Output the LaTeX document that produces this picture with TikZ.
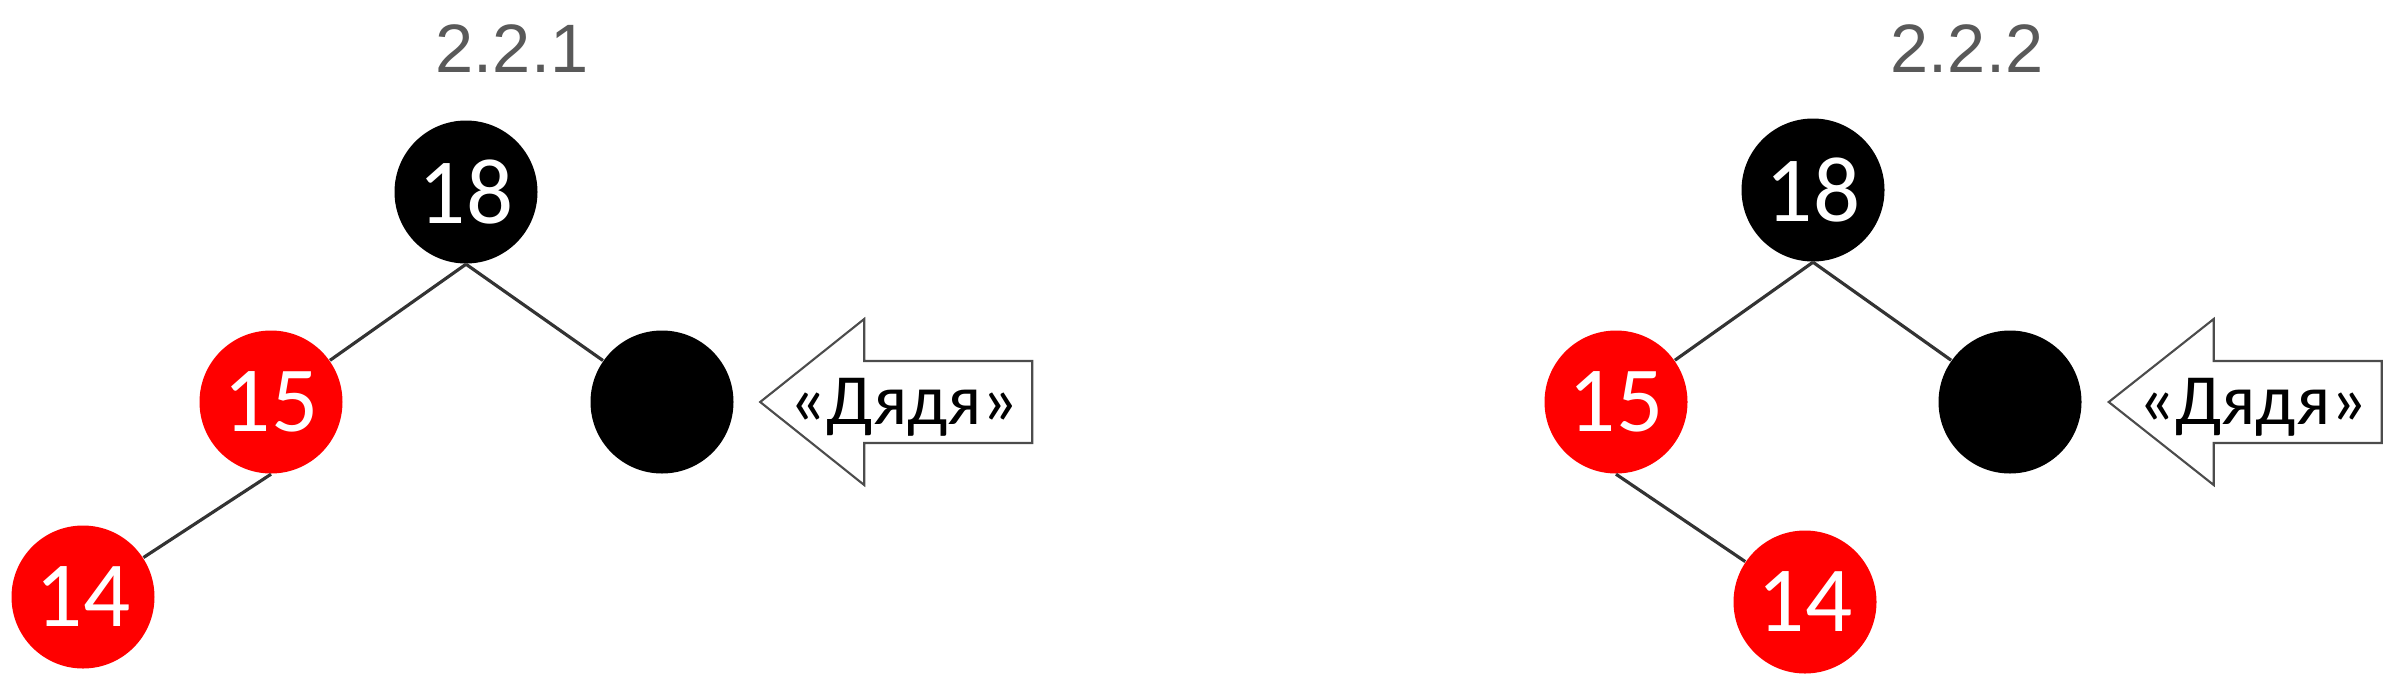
\documentclass[tikz,border=0pt]{standalone}
\usepackage{fontspec}
\setmainfont{Carlito}
\newfontfamily\headfont{Liberation Sans}
\usetikzlibrary{positioning}
\definecolor{headgray}{HTML}{595959}
\definecolor{edgegray}{HTML}{333333}
\begin{document}
\begin{tikzpicture}
	\tikzset{rb/.style = {shape=circle, minimum size=1.43cm, inner sep=0pt, text=white, font=\fontsize{26.5}{26.5}\selectfont},
	red node/.style = {rb, fill=red},
	black node/.style = {rb, fill=black},
	edge/.style = {draw=edgegray, line width=0.9pt},
	title/.style = {anchor=base, text=headgray, font=\headfont\fontsize{19.5}{19.5}\selectfont},
	uncle arrow/.style = {draw=black!70, line width=0.6pt, fill=white},
	uncle text/.style = {inner sep=0pt, font=\fontsize{20.5}{20.5}\selectfont}}

	\useasboundingbox (0,0) rectangle (23.96,6.83);

	% 2.2.1
	\node[title] (T_1) at (5.12,6.11) {2.2.1};
	\node[black node] (A_1) at (4.66,4.91) {18};
	\node[red node] (A_2) at (2.71,2.81) {15};
	\node[black node] (A_3) at (6.62,2.81) {};
	\node[red node] (A_4) at (0.83,0.86) {14};

	\draw[edge] (A_1.south)--(A_2);
	\draw[edge] (A_1.south)--(A_3);
	\draw[edge] (A_2.south)--(A_4);

	\coordinate[right=0.26cm of A_3] (P_1);
	\draw[uncle arrow] (P_1) -- ++(1.04,0.83) -- ++(0,-0.42) -- ++(1.68,0) -- ++(0,-0.82) -- ++(-1.68,0) -- ++(0,-0.42) -- cycle;
	\node[uncle text, right=0.29cm of P_1, yshift=-0.05cm] (D_1) {«Дядя»};

	% 2.2.2
	\node[title] (T_2) at (19.67,6.11) {2.2.2};
	\node[black node] (B_1) at (18.13,4.93) {18};
	\node[red node] (B_2) at (16.16,2.81) {15};
	\node[black node] (B_3) at (20.10,2.81) {};
	\node[red node] (B_4) at (18.05,0.81) {14};

	\draw[edge] (B_1.south)--(B_2);
	\draw[edge] (B_1.south)--(B_3);
	\draw[edge] (B_2.south)--(B_4);

	\coordinate[right=0.265cm of B_3] (P_2);
	\draw[uncle arrow] (P_2) -- ++(1.05,0.83) -- ++(0,-0.42) -- ++(1.68,0) -- ++(0,-0.82) -- ++(-1.68,0) -- ++(0,-0.42) -- cycle;
	\node[uncle text, right=0.29cm of P_2, yshift=-0.05cm] (D_2) {«Дядя»};

\end{tikzpicture}
\end{document}
